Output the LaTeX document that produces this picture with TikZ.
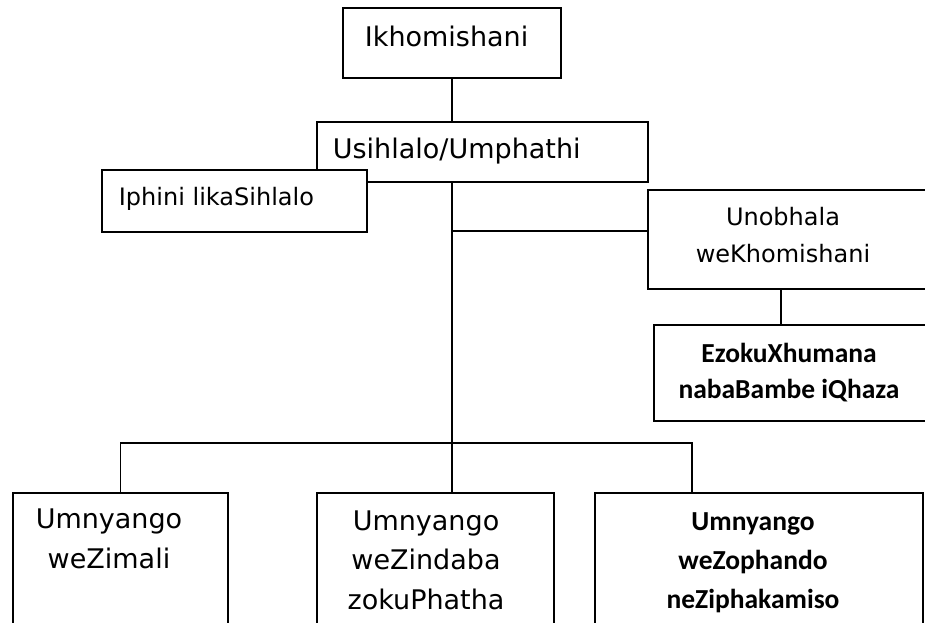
\documentclass[tikz,border=0pt]{standalone}
\usepackage{fontspec}
\setmainfont{DejaVu Sans}
\newfontfamily\calibri{Carlito}

\tikzset{
	unit/.style={shape=rectangle,draw=black,fill=white,line width=1.8pt,anchor=north west,inner sep=0pt},
	txt/.style={inner sep=0pt,align=center,anchor=base},
	large/.style={font=\fontsize{27}{39.5}\selectfont},
	small/.style={font=\fontsize{24}{37}\selectfont},
	heavy/.style={font=\calibri\bfseries\fontsize{27.5}{36}\selectfont},
}

\begin{document}
\begin{tikzpicture}[x=1pt,y=-1pt,line width=1.8pt]
	\useasboundingbox (0,0) rectangle (925,622);
	\clip (0,0) rectangle (925,622);

	\node (komishani) at (342,7)[unit,minimum width=218pt,minimum height=70pt] {};
	\node (chair) at (316,121)[unit,minimum width=331pt,minimum height=60pt] {};
	\node (deputy) at (101,169)[unit,minimum width=265pt,minimum height=62pt] {};
	\node (secretary) at (647,189)[unit,minimum width=320pt,minimum height=99pt] {};
	\node (liaison) at (653,324)[unit,minimum width=320pt,minimum height=96pt] {};
	\node (zimali) at (12,492)[unit,minimum width=215pt,minimum height=170pt] {};
	\node (zindaba) at (316,492)[unit,minimum width=237pt,minimum height=170pt] {};
	\node (zophando) at (594,492)[unit,minimum width=328pt,minimum height=170pt] {};

	\coordinate (secJoin) at (451,231);
	\coordinate (secTap) at (781,288);
	\coordinate (zophandoTap) at (692,443);

	\draw (komishani.south) -- (komishani.south |- chair.north);
	\draw (komishani.south |- chair.south) -- (komishani.south |- zindaba.north);
	\draw (secJoin) -- (secJoin -| secretary.west);
	\draw (secTap) -- (secTap |- liaison.north);
	\draw (zimali.north) |- (zophandoTap) -- (zophandoTap |- zophando.north);

	% multi-line texts are anchored at the baseline of their last line
	\node (komishaniTxt) at (364,46)[txt,large,anchor=base west] {Ikhomishani};
	\node (chairTxt) at (332,158)[txt,large,anchor=base west] {Usihlalo/Umphathi};
	\node (deputyTxt) at (118,205)[txt,small,anchor=base west] {Iphini likaSihlalo};
	\node (secretaryTxt) at (783,262)[txt,small] {Unobhala\\weKhomishani};
	\node (liaisonTxt) at (789,398)[txt,heavy] {EzokuXhumana\\nabaBambe iQhaza};
	\node (zimaliTxt) at (109,568)[txt,large] {Umnyango\\weZimali};
	\node (zindabaTxt) at (426,609)[txt,large] {Umnyango\\weZindaba\\zokuPhatha};
	\node (zophandoTxt) at (753,608)[txt,heavy,font=\calibri\bfseries\fontsize{27.5}{39}\selectfont] {Umnyango\\weZophando\\neZiphakamiso};
\end{tikzpicture}
\end{document}
